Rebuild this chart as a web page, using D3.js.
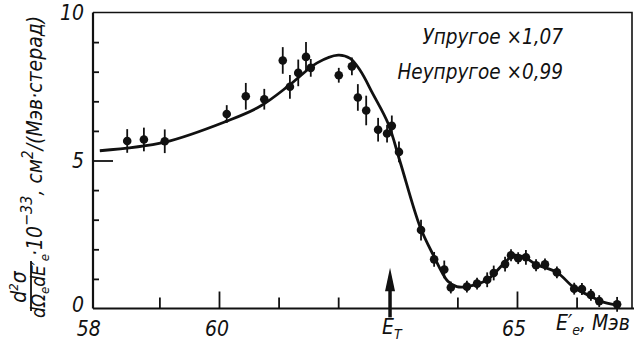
<!DOCTYPE html>
<html>
<head>
<meta charset="utf-8">
<script src="https://cdn.jsdelivr.net/npm/d3@7"></script>
<style>
  body { margin: 0; background: #fff; }
  svg { display: block; }
  text { font-family: "DejaVu Sans Condensed", "Liberation Sans Narrow", sans-serif; font-stretch: condensed; font-style: italic; fill: #111; }
</style>
</head>
<body>
<svg></svg>
<script>
// measured points (MeV, 10^-33 cm2/(MeV sr))
const pointE = [58.46, 58.74, 59.09, 60.13, 60.45, 60.76, 61.07, 61.19, 61.33, 61.46, 61.54, 62.01, 62.23, 62.33, 62.47, 62.67, 62.82, 62.90, 63.02, 63.39, 63.61, 63.78, 63.89, 64.16, 64.33, 64.50, 64.61, 64.80, 64.90, 65.02, 65.15, 65.32, 65.47, 65.67, 65.96, 66.09, 66.24, 66.38, 66.68]
const pointSigma = [5.66, 5.71, 5.65, 6.57, 7.17, 7.07, 8.38, 7.49, 7.96, 8.50, 8.13, 7.88, 8.18, 7.13, 6.69, 6.04, 5.91, 6.17, 5.29, 2.65, 1.66, 1.32, 0.71, 0.74, 0.84, 0.97, 1.20, 1.50, 1.80, 1.70, 1.73, 1.46, 1.49, 1.22, 0.67, 0.66, 0.46, 0.25, 0.14]
const pointErr = [0.4, 0.4, 0.4, 0.3, 0.45, 0.35, 0.45, 0.4, 0.45, 0.5, 0.3, 0.25, 0.3, 0.45, 0.5, 0.4, 0.3, 0.35, 0.35, 0.35, 0.25, 0.3, 0.2, 0.2, 0.2, 0.25, 0.25, 0.25, 0.2, 0.2, 0.25, 0.2, 0.2, 0.2, 0.2, 0.2, 0.2, 0.2, 0.25]

// fitted curve
const curveE = [58.0, 59.09, 60.13, 60.69, 61.19, 61.64, 62.00, 62.20, 62.37, 62.58, 62.84, 63.04, 63.37, 63.59, 63.84, 63.99, 64.16, 64.50, 64.77, 64.95, 65.13, 65.32, 65.67, 65.96, 66.23, 66.40, 66.68]
const curveSigma = [5.33, 5.62, 6.33, 6.83, 7.56, 8.29, 8.56, 8.45, 8.04, 7.26, 6.24, 4.95, 2.78, 1.83, 0.92, 0.74, 0.74, 0.97, 1.50, 1.80, 1.73, 1.49, 1.22, 0.70, 0.42, 0.25, 0.11]

const xTicks = [59, 60, 61, 62, 64, 65, 66]
const xMajor = [60, 65]
const xLabels = ['58', '60', '65']
const yTicks = [1, 2, 3, 4, 5, 6, 7, 8, 9]
const yLabels = ['0', '5', '10']
const thresholdE = 62.87
const legendLines = ['Упругое ×1,07', 'Неупругое ×0,99']

let svgWidth = 634,
    svgHeight = 344

let svg = d3.select('svg')
    .attr('width', svgWidth)
    .attr('height', svgHeight)

let x = d3.scaleLinear().domain([57.886, 66.93]).range([93, 632])
let y = d3.scaleLinear().domain([0, 10]).range([308.5, 12.5])

// frame: top and right
svg.append('path')
    .attr('d', `M${x(57.886)},${y(10)}H${x(66.93)}V${y(0)}`)
    .attr('fill', 'none')
    .attr('stroke', '#111')
    .attr('stroke-width', 1.6)

// x axis, ticks pointing in
let xAxis = svg.append('g')
    .attr('transform', `translate(0,${y(0)})`)
    .call(d3.axisBottom(x).tickValues(xTicks).tickSize(-11).tickFormat(''))
xAxis.select('.domain').attr('d', `M${x(57.886)},0H634`).attr('stroke-width', 2.2).attr('stroke', '#111')
xAxis.selectAll('.tick line')
    .attr('stroke', '#111')
    .attr('stroke-width', 1.8)
    .attr('y2', d => xMajor.includes(d) ? -17 : -11)

// y axis, ticks pointing in
let yAxis = svg.append('g')
    .attr('transform', `translate(${x(57.886)},0)`)
    .call(d3.axisLeft(y).tickValues(yTicks).tickSize(-6).tickFormat(''))
yAxis.select('.domain').attr('d', `M0,${y(10)}V${y(0)}`).attr('stroke-width', 2.2).attr('stroke', '#111')
yAxis.selectAll('.tick line')
    .attr('stroke', '#111')
    .attr('stroke-width', 1.8)
    .attr('x2', d => d === 5 ? 20 : 6)

// tick labels
const xLabelShift = { '58': -11, '60': -2, '65': -3 }
svg.selectAll('.xlab')
    .data(xLabels)
    .enter()
    .append('text')
    .attr('x', d => x(+d) + xLabelShift[d])
    .attr('y', 336)
    .attr('text-anchor', 'middle')
    .attr('font-size', 21)
    .text(d => d)

svg.selectAll('.ylab')
    .data(yLabels)
    .enter()
    .append('text')
    .attr('x', 84)
    .attr('y', d => y(+d) + (d === '0' ? 3 : 7))
    .attr('text-anchor', 'end')
    .attr('font-size', 21)
    .text(d => d)

// fitted curve
let line = d3.line()
    .x(d => x(d[0]))
    .y(d => y(d[1]))
    .curve(d3.curveCatmullRom.alpha(0.5))

svg.append('path')
    .attr('d', line(curveE.map((e, i) => [e, curveSigma[i]])))
    .attr('fill', 'none')
    .attr('stroke', '#111')
    .attr('stroke-width', 2.8)

// data points with error bars
let pts = svg.selectAll('.pt')
    .data(pointE.map((e, i) => ({ e: e, s: pointSigma[i], err: pointErr[i] })))
    .enter()
    .append('g')

pts.append('line')
    .attr('x1', d => x(d.e))
    .attr('x2', d => x(d.e))
    .attr('y1', d => y(d.s + d.err))
    .attr('y2', d => y(d.s - d.err))
    .attr('stroke', '#111')
    .attr('stroke-width', 1.8)

pts.append('circle')
    .attr('cx', d => x(d.e))
    .attr('cy', d => y(d.s))
    .attr('r', 4.3)
    .attr('fill', '#111')

// threshold arrow
let ax = x(thresholdE)
svg.append('line')
    .attr('x1', ax).attr('x2', ax)
    .attr('y1', y(0.8)).attr('y2', y(-0.3))
    .attr('stroke', '#111')
    .attr('stroke-width', 3.5)
svg.append('path')
    .attr('d', `M${ax},${y(1.38)}L${ax - 5},${y(0.58)}L${ax + 5},${y(0.58)}Z`)
    .attr('fill', '#111')

let et = svg.append('text')
    .attr('x', ax - 8)
    .attr('y', 334)
    .attr('font-size', 21)
et.append('tspan').text('E')
et.append('tspan').attr('font-size', 14).attr('dy', 5).text('T')

// x-axis title
let xt = svg.append('text')
    .attr('x', 556)
    .attr('y', 330)
    .attr('font-size', 21)
xt.append('tspan').text('E′')
xt.append('tspan').attr('font-size', 14).attr('dy', 5).text('e')
xt.append('tspan').attr('dy', -5).text(', Мэв')

// legend
svg.selectAll('.leg')
    .data(legendLines)
    .enter()
    .append('text')
    .attr('x', 563)
    .attr('y', (d, i) => 44 + i * 35)
    .attr('text-anchor', 'end')
    .attr('font-size', 20.5)
    .attr('xml:space', 'preserve')
    .text(d => d)

// y-axis title, rotated
let yt = svg.append('g')
    .attr('transform', 'translate(0,311) rotate(-90)')

let num = yt.append('text')
    .attr('x', 24)
    .attr('y', 26)
    .attr('text-anchor', 'middle')
    .attr('font-size', 21)
num.append('tspan').text('d')
num.append('tspan').attr('font-size', 13).attr('dy', -8).text('2')
num.append('tspan').attr('dy', 8).text('σ')

yt.append('line')
    .attr('x1', 0).attr('x2', 50)
    .attr('y1', 31).attr('y2', 31)
    .attr('stroke', '#111')
    .attr('stroke-width', 1.8)

let den = yt.append('text')
    .attr('x', 25)
    .attr('y', 45)
    .attr('text-anchor', 'middle')
    .attr('font-size', 19)
den.append('tspan').text('dΩ')
den.append('tspan').attr('font-size', 13).attr('dy', 4).text('e')
den.append('tspan').attr('dy', -4).text('dE′')
den.append('tspan').attr('font-size', 13).attr('dy', 4).text('e')

let rest = yt.append('text')
    .attr('x', 55)
    .attr('y', 42)
    .attr('font-size', 21)
rest.append('tspan').text('·10')
rest.append('tspan').attr('font-size', 16).attr('dy', -10).text('−33')
rest.append('tspan').attr('dy', 10).text(', см')
rest.append('tspan').attr('font-size', 15).attr('dy', -9).text('2')
rest.append('tspan').attr('dy', 9).text('/(Мэв·стерад)')
</script>
</body>
</html>
